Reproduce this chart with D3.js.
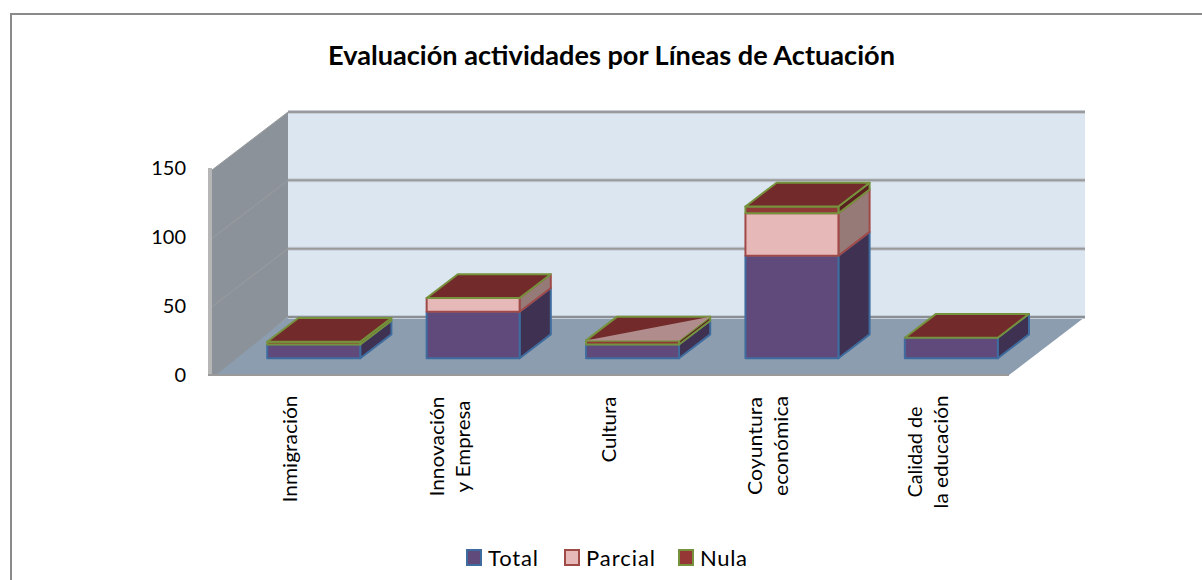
<!DOCTYPE html>
<html>
<head>
<meta charset="utf-8">
<script src="https://cdn.jsdelivr.net/npm/d3@7"></script>
<style>
    html, body { margin: 0; padding: 0; background: #fff; overflow: hidden; }
    text { font-family: Lato, "Open Sans", sans-serif; fill: #000; }
</style>
</head>
<body>
<svg id="chart" width="1202" height="580"></svg>
<script>
// values
const categories = ["Inmigración", "Innovación y Empresa", "Cultura", "Coyuntura económica", "Calidad de la educación"];
const categoryLines = [["Inmigración"], ["Innovación", "y Empresa"], ["Cultura"], ["Coyuntura", "económica"], ["Calidad de", "la educación"]];
const seriesNames = ["Total", "Parcial", "Nula"];
const total = [10, 34, 10, 75, 15];
const parcial = [0, 10, 0, 31, 0];
const nula = [2, 0, 3, 5, 0];
const yTicks = [0, 50, 100, 150];
const titleText = "Evaluación actividades por Líneas de Actuación";

const faceColours = {
    Total: { front: "#604a7b", side: "#3f3151", top: "#604a7b", stroke: "#3f6c9e" },
    Parcial: { front: "#e6b9b8", side: "#957a78", top: "#e6b9b8", stroke: "#a04a48" },
    Nula: { front: "#8f3a36", side: "#5a2020", top: "#722b2a", stroke: "#76923c" }
};

const svg = d3.select("#chart");

// floor of the 3d box
const plot = { left: 212, right: 1009, base: 375, height: 205, depthX: 76, depthY: 58 };
const barDepth = [0.29, 0.70];

const x = d3.scaleBand()
    .domain(categories)
    .range([plot.left, plot.right])
    .paddingInner(0.4166)
    .paddingOuter(0.2083);

const y = d3.scaleLinear()
    .domain([0, 150])
    .range([plot.base, plot.base - plot.height]);

// tick labels sit a little wider than the wall itself
const yLabels = d3.scaleLinear()
    .domain([0, 150])
    .range([plot.base, plot.base - plot.height - 2]);

// oblique projection: screen x, value, depth 0 (front) to 1 (back wall)
function project(px, value, depth) {
    return [px + depth * plot.depthX, y(value) - depth * plot.depthY];
}

const polygon = d3.line();

function face(points, fill, stroke, strokeWidth) {
    svg.append("path")
        .attr("d", polygon(points) + "Z")
        .attr("fill", fill)
        .attr("stroke", stroke || "none")
        .attr("stroke-width", strokeWidth || 0)
        .attr("stroke-linejoin", "round");
}

// outer frame, right and bottom are cut off in the picture
svg.append("path")
    .attr("d", "M11,580V14H1202")
    .attr("fill", "none")
    .attr("stroke", "#8a8a8a")
    .attr("stroke-width", 2);

svg.append("text")
    .attr("x", 611.5)
    .attr("y", 65)
    .attr("text-anchor", "middle")
    .attr("font-weight", 700)
    .attr("font-size", 26)
    .attr("textLength", 567)
    .attr("lengthAdjust", "spacingAndGlyphs")
    .text(titleText);

// back wall, floor, side wall
face([project(plot.left, 0, 1), project(plot.right, 0, 1), project(plot.right, 150, 1), project(plot.left, 150, 1)], "#dce6f1");
face([project(plot.left, 0, 0), project(plot.right, 0, 0), project(plot.right, 0, 1), project(plot.left, 0, 1)], "#8c9db0");
face([project(plot.left, 0, 0), project(plot.left + 4, 0, 0), project(plot.left, 0, 1), project(plot.left, 150, 1), project(plot.left, 150, 0)], "#8b9299");

svg.append("rect")
    .attr("x", plot.left - 4)
    .attr("y", y(150) - 2)
    .attr("width", 4)
    .attr("height", plot.height + 3)
    .attr("fill", "#b6b6b6");

svg.append("path")
    .attr("d", d3.line()([[plot.left - 4, plot.base], project(plot.right, 0, 0)]))
    .attr("stroke", "#9a9a9a")
    .attr("stroke-width", 2);

// gridlines on wall and side wall
yTicks.forEach((t) => {
    if (t > 0) {
        svg.append("path")
            .attr("d", d3.line()([project(plot.left, t, 0), project(plot.left, t, 1)]))
            .attr("stroke", "#9a9d9f")
            .attr("stroke-width", 1);
    }
    const wallLine = d3.line()([project(plot.left, t, 1), project(plot.right, t, 1)]);
    svg.append("path").attr("d", wallLine).attr("stroke", "#c5ced8").attr("stroke-width", 4);
    svg.append("path").attr("d", wallLine).attr("stroke", t === 0 ? "#8a8f94" : "#9a9a9a").attr("stroke-width", 2);
});

// y axis
const yAxis = svg.append("g")
    .attr("transform", "translate(191,0)")
    .call(d3.axisLeft(yLabels).tickValues(yTicks).tickSize(0).tickPadding(5));
yAxis.select(".domain").remove();
yAxis.selectAll("text")
    .attr("font-size", 20)
    .style("font-family", "Lato, sans-serif");

// stacked boxes
const rows = categories.map((c, i) => ({ category: c, Total: total[i], Parcial: parcial[i], Nula: nula[i] }));
const stacked = d3.stack().keys(seriesNames)(rows);

categories.forEach((c, i) => {
    const left = x(c);
    const right = left + x.bandwidth();
    stacked.forEach((layer) => {
        const [low, high] = layer[i];
        if (high === low) return;
        const col = faceColours[layer.key];
        face([project(right, low, barDepth[0]), project(right, low, barDepth[1]), project(right, high, barDepth[1]), project(right, high, barDepth[0])],
            col.side, col.stroke, 2);
        face([project(left, low, barDepth[0]), project(right, low, barDepth[0]), project(right, high, barDepth[0]), project(left, high, barDepth[0])],
            col.front, col.stroke, 2);
    });
    // roof takes the colour of the last series, whatever its size
    const topValue = total[i] + parcial[i] + nula[i];
    const roof = [project(left, topValue, barDepth[0]), project(right, topValue, barDepth[0]), project(right, topValue, barDepth[1]), project(left, topValue, barDepth[1])];
    face(roof, faceColours.Nula.top, faceColours.Nula.stroke, 2);
    // Cultura: the empty Parcial roof shows through on half of the top
    if (parcial[i] === 0 && c === "Cultura") {
        face([roof[0], roof[1], roof[2]], "#b08c8c", faceColours.Nula.stroke, 0);
    }
});

// category labels, rotated and hanging from the same top line
const labelTop = 396;
const labelBlock = [106, 101, 67, 100, 112];
const lineLengths = [[107], [100, 92], [66], [98, 100], [91, 113]];
const lineStep = 26;

categories.forEach((c, i) => {
    const lines = categoryLines[i];
    const cx = x(c) + x.bandwidth() / 2 - 2.5;
    lines.forEach((line, k) => {
        const lx = cx + (k - (lines.length - 1) / 2) * lineStep;
        const ly = labelTop + labelBlock[i] / 2;
        svg.append("text")
            .attr("transform", "translate(" + lx + "," + ly + ") rotate(-90)")
            .attr("text-anchor", "middle")
            .attr("dominant-baseline", "central")
            .attr("font-size", 20)
            .attr("textLength", lineLengths[i][k])
            .attr("lengthAdjust", "spacingAndGlyphs")
            .text(line);
    });
});

// legend
const legendX = d3.scaleOrdinal().domain(seriesNames).range([466, 564, 678]);
const legendWidth = { Total: 50, Parcial: 69, Nula: 47 };
const legendFill = { Total: "#604a7b", Parcial: "#e6b9b8", Nula: "#953735" };

seriesNames.forEach((name) => {
    svg.append("rect")
        .attr("x", legendX(name) + 1)
        .attr("y", 550)
        .attr("width", 14)
        .attr("height", 15)
        .attr("fill", legendFill[name])
        .attr("stroke", faceColours[name].stroke)
        .attr("stroke-width", 2);
    svg.append("text")
        .attr("x", legendX(name) + 22)
        .attr("y", 566)
        .attr("font-size", 22)
        .attr("textLength", legendWidth[name])
        .attr("lengthAdjust", "spacing")
        .text(name);
});
</script>
</body>
</html>
